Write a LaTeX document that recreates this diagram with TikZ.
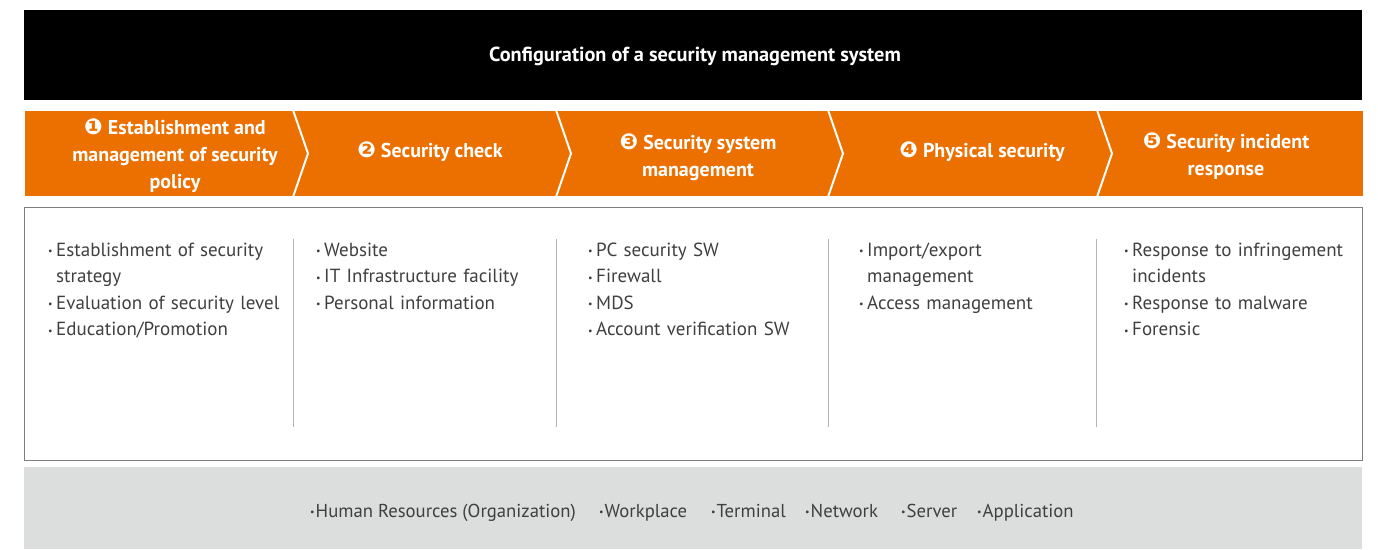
\documentclass[tikz,border=0pt]{standalone}
\usepackage{fontspec}
\setmainfont{PT Sans}
\newfontfamily\dingfont{DejaVu Sans}
\definecolor{orng}{HTML}{EC7000}
\definecolor{basegrey}{HTML}{DCDEDD}
\definecolor{txtgrey}{HTML}{3F3F3F}
\definecolor{framegrey}{HTML}{7F7F7F}
\definecolor{divgrey}{HTML}{B5B5B5}
\newcommand{\circnum}[1]{{\dingfont\fontsize{22}{22}\selectfont #1}}
\newcommand{\bul}{\raisebox{0.15ex}{\fontsize{10}{10}\selectfont •}\hspace{3.5pt}}
\newcommand{\bulb}{\raisebox{0.15ex}{\fontsize{10}{10}\selectfont •}\hspace{1pt}}
\newcommand{\ind}{\phantom{\bul}}
\tikzset{
  headtxt/.style={text=white, font=\bfseries\fontsize{20}{27}\selectfont, align=center, inner sep=0pt},
  bodytxt/.style={text=txtgrey, font=\fontsize{19}{26.5}\selectfont, text width=260pt, align=left, anchor=base west, inner sep=0pt},
  basetxt/.style={text=txtgrey, font=\fontsize{18.7}{22}\selectfont, anchor=base west, inner sep=0pt},
  sep/.style={draw=white, line width=2pt},
  divline/.style={draw=divgrey, line width=1pt}
}
\begin{document}
\begin{tikzpicture}[x=1pt,y=-1pt]
\useasboundingbox (0,0) rectangle (1378,549);
% title bar
\fill[black] (24,10) rectangle (1362,100);
\node[text=white, font=\bfseries\fontsize{20.3}{24}\selectfont, inner sep=0pt] (title) at (695,56) {Configuration of a security management system};
% orange band
\fill[orng] (25,111) rectangle (1363,196);
\foreach \x in {293,556,828,1097}{
  \draw[sep] (\x,110) -- (\x+15,153.5) -- (\x,197);
}
\node[headtxt] (h1) at (175,156) {\circnum{❶} Establishment and\\management of security\\policy};
\node[headtxt] (h2) at (430,152) {\circnum{❷} Security check};
\node[headtxt] (h3) at (698,157.5) {\circnum{❸} Security system\\management};
\node[headtxt] (h4) at (982,152) {\circnum{❹} Physical security};
\node[headtxt] (h5) at (1226,156.5) {\circnum{❺} Security incident\\response};
% content frame
\draw[framegrey, line width=1pt] (24.5,207.5) rectangle (1362,460);
\foreach \x in {293,556,828,1096}{
  \draw[divline] (\x,239) -- (\x,427);
}
\node[bodytxt] (c1) at (48,256) {\bul Establishment of security\\\ind strategy\\\bul Evaluation of security level\\\bul Education/Promotion};
\node[bodytxt] (c2) at (316,256) {\bul Website\\\bul IT Infrastructure facility\\\bul Personal information};
\node[bodytxt] (c3) at (588,256) {\bul PC security SW\\\bul Firewall\\\bul MDS\\\bul Account verification SW};
\node[bodytxt] (c4) at (859,256) {\bul Import/export\\\ind management\\\bul Access management};
\node[bodytxt] (c5) at (1124,256) {\bul Response to infringement\\\ind incidents\\\bul Response to malware\\\bul Forensic};
% base bar
\fill[basegrey] (24,467) rectangle (1362,549);
\node[basetxt] (b1) at (310,517) {\bulb Human Resources (Organization)};
\node[basetxt] (b2) at (599,517) {\bulb Workplace};
\node[basetxt] (b3) at (711,517) {\bulb Terminal};
\node[basetxt] (b4) at (805,517) {\bulb Network};
\node[basetxt] (b5) at (901,517) {\bulb Server};
\node[basetxt] (b6) at (977,517) {\bulb Application};
\end{tikzpicture}
\end{document}
